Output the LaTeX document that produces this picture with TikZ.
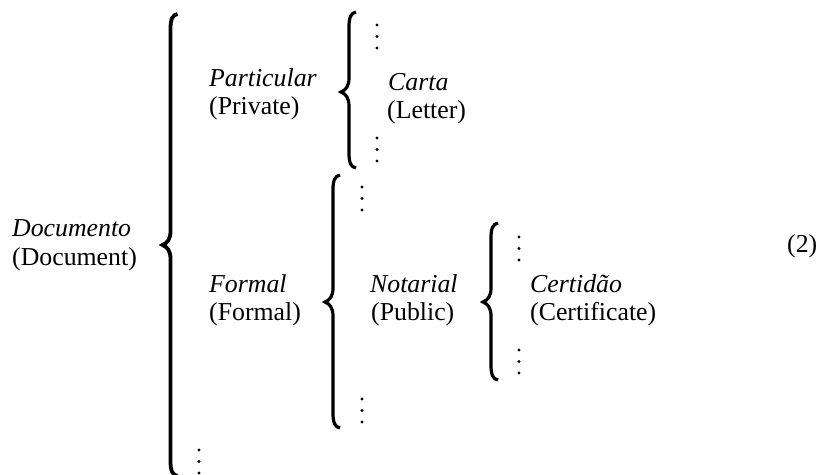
\documentclass[tikz,border=0pt]{standalone}
\usepackage{fontspec}
\setmainfont{Liberation Serif}
\begin{document}
\begin{tikzpicture}[x=1pt,y=-1pt,
  lbl/.style={anchor=base west,inner sep=0pt,font=\fontsize{25.8}{30}\selectfont},
  ilbl/.style={lbl,font=\fontsize{25.8}{30}\selectfont\itshape},
  bigbrace/.style={line width=3.8pt,line join=miter,line cap=butt},
  smallbrace/.style={line width=3.2pt,line join=miter,line cap=butt}]
\useasboundingbox (0,0) rectangle (822,474);
% brace: stem x, top, bottom, middle, style
\newcommand\drawbrace[5]{%
  \draw[#5] ({#1+7},{#2}) .. controls ({#1+2},{#2+1}) and ({#1},{#2+5}) .. ({#1},{#2+15})
    -- ({#1},{#4-14}) .. controls ({#1},{#4-6}) and ({#1-3},{#4-2}) .. ({#1-8},{#4})
    .. controls ({#1-3},{#4+2}) and ({#1},{#4+6}) .. ({#1},{#4+14})
    -- ({#1},{#3-15}) .. controls ({#1},{#3-5}) and ({#1+2},{#3-1}) .. ({#1+7},{#3});}
\newcommand\dotcol[2]{%
  \fill (#1,#2) circle (1.7pt);
  \fill (#1,{#2+11.5}) circle (1.7pt);
  \fill (#1,{#2+23}) circle (1.7pt);}
% level 0
\node[ilbl] (doc) at (12,236) {Documento};
\node[lbl] (docen) at (12,265) {(Document)};
\drawbrace{170.5}{14}{476}{245}{bigbrace}
% level 1
\node[ilbl] (part) at (209,86) {Particular};
\node[lbl] (parten) at (209,114) {(Private)};
\node[ilbl] (form) at (209,292) {Formal};
\node[lbl] (formen) at (209,320) {(Formal)};
\dotcol{199}{450}
% particular brace
\drawbrace{349}{12}{168}{92}{smallbrace}
\node[ilbl] (carta) at (388,90) {Carta};
\node[lbl] (cartaen) at (387,118) {(Letter)};
\dotcol{377}{25}
\dotcol{377}{138}
% formal brace
\drawbrace{333}{175}{428}{302}{smallbrace}
\node[ilbl] (not) at (370,292) {Notarial};
\node[lbl] (noten) at (371,320) {(Public)};
\dotcol{362}{187}
\dotcol{362}{399}
% notarial brace
\drawbrace{491}{223}{380}{302}{smallbrace}
\node[ilbl] (cert) at (530,292) {Certidão};
\node[lbl] (certen) at (530,320) {(Certificate)};
\dotcol{519}{237}
\dotcol{519}{350}
% equation number
\node[lbl] (eqno) at (787,252) {(2)};
\end{tikzpicture}
\end{document}
